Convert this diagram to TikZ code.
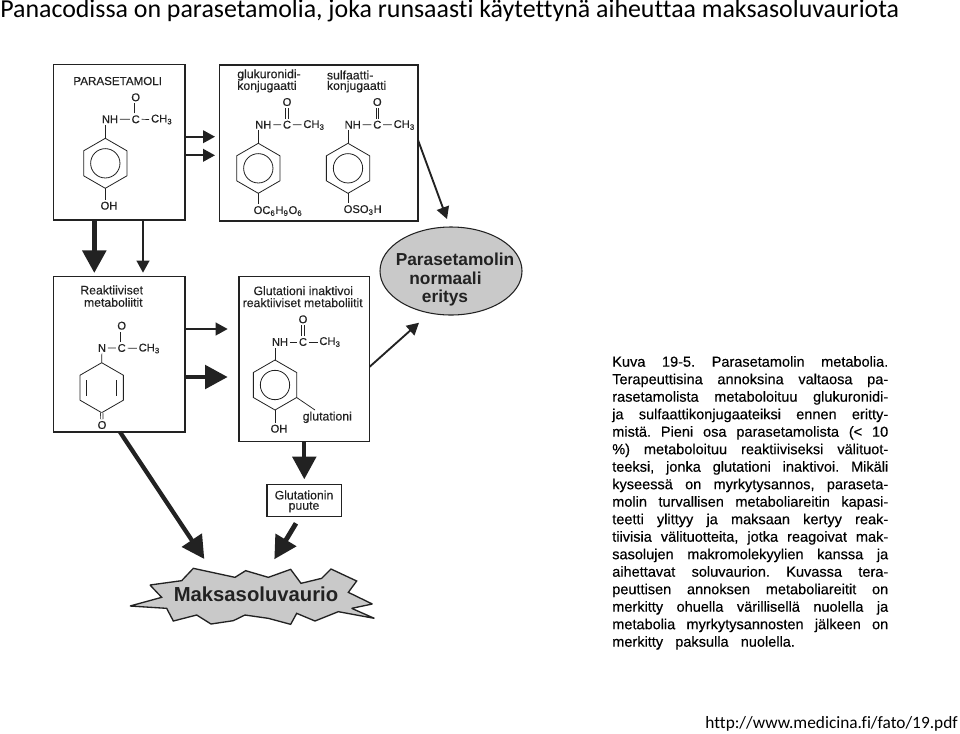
\documentclass[tikz,border=0pt]{standalone}
\usepackage{fontspec}
\setmainfont{Liberation Sans}
\newfontfamily\calib[Ligatures=NoCommon]{Carlito}
\newfontfamily\heavy[FakeBold=0.3]{Liberation Sans}
\usetikzlibrary{arrows.meta,shapes.geometric,calc}
\definecolor{ink}{HTML}{222222}
\definecolor{fillgray}{HTML}{C9C9C9}
\tikzset{
  x=.75pt,y=-.75pt,
  stagebox/.style={draw=ink,line width=1pt,fill=white,inner sep=0,minimum width=0},
  lbl/.style={font=\heavy\fontsize{9.2pt}{10pt}\selectfont,text=ink,inner sep=0,align=center},
  atom/.style={font=\heavy\fontsize{8.4pt}{9pt}\selectfont,text=ink,inner sep=1.2pt},
  bond/.style={draw=ink,line width=.55pt},
  ring/.style={draw=ink,line width=.6pt,regular polygon,regular polygon sides=6,shape border rotate=30,minimum size=37.5pt,inner sep=0,outer sep=0},
  ringc/.style={draw=ink,line width=.6pt,circle,minimum size=22pt,inner sep=0,outer sep=0},
  thin arrow/.style={draw=ink,line width=1.4pt,-{Triangle[length=9pt,width=9.5pt]},shorten >=0pt},
  fat arrow/.style={draw=ink,line width=3.2pt,-{Triangle[length=17pt,width=17.5pt]}},
  para/.style={font=\heavy\fontsize{10.9pt}{12pt}\selectfont,text=black,inner sep=0,anchor=base west},
  head/.style={font=\calib\fontsize{19.42pt}{24pt}\selectfont,text=black,inner sep=0,anchor=base west},
  bigl/.style={font=\bfseries\fontsize{13pt}{14pt}\selectfont,text=ink,inner sep=0},
}
\newcommand{\plin}[3]{\node[para] (p#1) at (612,{366.7+17.5*(#1-1)}) {\frenchspacing\makebox[#2][s]{#3}};}
\begin{document}
\begin{tikzpicture}
\useasboundingbox (0,0) rectangle (960,733);
\node[head] (title) at (0,17.5) {Panacodissa on parasetamolia, joka runsaasti käytettynä aiheuttaa maksasoluvauriota};
\node[head,font=\calib\fontsize{13pt}{16pt}\selectfont,anchor=base east] (url) at (958,728) {http://www.medicina.fi/fato/19.pdf};

% boxes
\draw[stagebox] (53.3,64.3) rectangle (185,220);
\coordinate (b1s1) at (94.3,220); \coordinate (b1s2) at (143,220);
\draw[stagebox] (219.5,65) rectangle (418,221);
\draw[stagebox] (53.3,276.7) rectangle (185,432);
\draw[stagebox] (239,276.7) rectangle (369.7,441.3);
\draw[stagebox] (267,484.3) rectangle (341.3,516.7);

% molecule 1
\node[lbl,font=\heavy\fontsize{8.7pt}{10pt}\selectfont] (t1) at (117.7,81) {PARASETAMOLI};
\node[atom] (o1) at (135.7,97.3) {O};
\node[atom] (n1) at (110,119.3) {NH};
\node[atom] (c1) at (135.7,119.3) {C};
\node[atom] (m1) at (161.7,119.5) {CH\textsubscript{3}};
\node[ring] (r1) at (105.3,163.3) {};
\node[ringc] (rc1) at (105.3,163.3) {};
\node[atom] (h1) at (109,205.7) {OH};
\draw[bond] (n1)--(c1) (c1)--(m1);
\draw[bond,double,double distance=1.2pt] (c1)--(o1);
\draw[bond] (r1.corner 1)--(r1.corner 1 |- n1.south);
\draw[bond] (r1.corner 4)--(r1.corner 4 |- h1.north);

% molecule 2
\node[lbl,anchor=west] (t2a) at (237,75) {glukuronidi-};
\node[lbl,anchor=west] (t2b) at (237,86.7) {konjugaatti};
\node[atom] (o2) at (287,102) {O};
\node[atom] (n2) at (263.3,124.7) {NH};
\node[atom] (c2) at (287,124.7) {C};
\node[atom] (m2) at (314,125) {CH\textsubscript{3}};
\node[ring] (r2) at (258.3,168.3) {};
\node[ringc] (rc2) at (258.3,168.3) {};
\node[atom] (h2) at (278,211) {OC\textsubscript{6}H\textsubscript{9}O\textsubscript{6}};
\draw[bond] (n2)--(c2) (c2)--(m2);
\draw[bond,double,double distance=1.2pt] (c2)--(o2);
\draw[bond] (r2.corner 1)--(r2.corner 1 |- n2.south);
\draw[bond] (r2.corner 4)--(r2.corner 4 |- h2.north);

% molecule 3
\node[lbl,anchor=west] (t3a) at (326.7,75) {sulfaatti-};
\node[lbl,anchor=west] (t3b) at (326.7,86.7) {konjugaatti};
\node[atom] (o3) at (377.3,102) {O};
\node[atom] (n3) at (352.7,124.7) {NH};
\node[atom] (c3) at (377.3,124.7) {C};
\node[atom] (m3) at (404.3,125) {CH\textsubscript{3}};
\node[ring] (r3) at (348,168.3) {};
\node[ringc] (rc3) at (348,168.3) {};
\node[atom] (h3) at (362.7,210) {OSO\textsubscript{3}H};
\draw[bond] (n3)--(c3) (c3)--(m3);
\draw[bond,double,double distance=1.2pt] (c3)--(o3);
\draw[bond] (r3.corner 1)--(r3.corner 1 |- n3.south);
\draw[bond] (r3.corner 4)--(r3.corner 4 |- h3.north);

% molecule 4 (quinone imine)
\node[lbl] (t4a) at (111.7,290) {Reaktiiviset};
\node[lbl] (t4b) at (113.3,302.3) {metaboliitit};
\node[atom] (o4) at (121.7,325.7) {O};
\node[atom] (n4) at (102,348) {N};
\node[atom] (c4) at (121.7,348) {C};
\node[atom] (m4) at (149.3,348.5) {CH\textsubscript{3}};
\node[ring] (r4) at (101.7,387.7) {};
\node[atom] (h4) at (102,425) {O};
\draw[bond] (n4)--(c4) (c4)--(m4);
\draw[bond,double,double distance=1.2pt] (c4)--(o4);
\draw[bond] (r4.corner 1)--(n4);
\draw[bond,double,double distance=1.2pt] (r4.corner 4)--(h4);
\draw[bond] (86.7,380)--(86.7,396) (116.7,380)--(116.7,396);

% molecule 5
\node[lbl] (t5a) at (303.3,290.7) {Glutationi inaktivoi};
\node[lbl] (t5b) at (302.7,302.7) {reaktiiviset metaboliitit};
\node[atom] (o5) at (303,319.3) {O};
\node[atom] (n5) at (280,342) {NH};
\node[atom] (c5) at (303,342) {C};
\node[atom] (m5) at (330,342) {CH\textsubscript{3}};
\node[ring] (r5) at (275,385) {};
\node[ringc] (rc5) at (275,385) {};
\node[atom] (h5) at (279,428.7) {OH};
\node[lbl] (g5) at (327.3,417.3) {glutationi};
\coordinate (g5e) at (315,410);
\draw[bond] (n5)--(c5) (c5)--(m5);
\draw[bond,double,double distance=1.2pt] (c5)--(o5);
\draw[bond] (r5.corner 1)--(r5.corner 1 |- n5.south);
\draw[bond] (r5.corner 4)--(r5.corner 4 |- h5.north);
\draw[bond] (r5.corner 5)--(g5e);

% puute
\node[lbl] (t6a) at (304,495) {Glutationin};
\node[lbl] (t6b) at (304,507) {puute};

% ellipse
\node[draw=ink,line width=.8pt,fill=fillgray,ellipse,minimum width=106.5pt,minimum height=66pt,inner sep=0] (ell) at (451,271) {};
\node[bigl] (e1) at (455,259) {Parasetamolin};
\node[bigl] (e2) at (445.5,278) {normaali};
\node[bigl] (e3) at (445,298) {eritys};

% burst
\begin{scope}[xshift=93.75pt,yshift=-420pt,x=.25pt,y=-.25pt]
\draw[draw=ink,line width=1pt,fill=fillgray,line join=miter,miter limit=2] (15,138)--(110,112)--(75,75)--(170,62)--(205,25)--(330,52)--(362,32)--(430,52)--(497,28)--(528,70)--(590,55)--(618,27)--(695,63)--(670,97)--(742,132)--(680,145)--(748,175)--(640,155)--(570,183)--(515,160)--(497,193)--(430,175)--(360,165)--(325,182)--(258,192)--(215,165)--(145,183)--(125,145)--cycle;
\end{scope}
\node[font=\fontsize{15.2pt}{17pt}\selectfont,text=ink,inner sep=0] (burst) at (256,594) {\textbf{Maksasoluvaurio}};

% arrows
\coordinate (a1) at (94.3,273); \coordinate (a2) at (143,272.7);
\draw[fat arrow,line width=3.6pt] (b1s1)--(a1);
\draw[thin arrow] (b1s2)--(a2);
\coordinate (s3) at (185,136.7); \coordinate (e3a) at (215,136.7);
\draw[thin arrow] (s3)--(e3a);
\coordinate (s4) at (185,155.3); \coordinate (e4a) at (215,155.3);
\draw[thin arrow] (s4)--(e4a);
\coordinate (s5) at (418,140); \coordinate (e5a) at (447,219);
\draw[thin arrow] (s5)--(e5a);
\coordinate (s6) at (185,329); \coordinate (e6a) at (227.7,329);
\draw[thin arrow] (s6)--(e6a);
\coordinate (s7) at (185,377); \coordinate (e7a) at (227.7,377);
\draw[fat arrow] (s7)--(e7a);
\coordinate (s8) at (369.7,366.7); \coordinate (e8a) at (419,322.7);
\draw[thin arrow] (s8)--(e8a);
\coordinate (s9) at (304.3,441.3); \coordinate (e9a) at (304.3,479.3);
\draw[fat arrow] (s9)--(e9a);
\coordinate (s10) at (120,432); \coordinate (e10a) at (204.3,559);
\draw[fat arrow] (s10)--(e10a);
\coordinate (s11) at (296,523.3); \coordinate (e11a) at (274.3,559.3);
\draw[fat arrow,line width=3.6pt] (s11)--(e11a);

% caption
\plin{1}{207pt}{Kuva 19-5. Parasetamolin metabolia.}
\plin{2}{207pt}{Terapeuttisina annoksina valtaosa pa-}
\plin{3}{207pt}{rasetamolista metaboloituu glukuronidi-}
\plin{4}{207pt}{ja sulfaattikonjugaateiksi ennen eritty-}
\plin{5}{207pt}{mistä. Pieni osa parasetamolista (< 10}
\plin{6}{207pt}{\%) metaboloituu reaktiiviseksi välituot-}
\plin{7}{207pt}{teeksi, jonka glutationi inaktivoi. Mikäli}
\plin{8}{207pt}{kyseessä on myrkytysannos, paraseta-}
\plin{9}{207pt}{molin turvallisen metaboliareitin kapasi-}
\plin{10}{207pt}{teetti ylittyy ja maksaan kertyy reak-}
\plin{11}{207pt}{tiivisia välituotteita, jotka reagoivat mak-}
\plin{12}{207pt}{sasolujen makromolekyylien kanssa ja}
\plin{13}{207pt}{aihettavat soluvaurion. Kuvassa tera-}
\plin{14}{207pt}{peuttisen annoksen metaboliareitit on}
\plin{15}{207pt}{merkitty ohuella värillisellä nuolella ja}
\plin{16}{207pt}{metabolia myrkytysannosten jälkeen on}
\plin{17}{137pt}{merkitty paksulla nuolella.}
\end{tikzpicture}
\end{document}
